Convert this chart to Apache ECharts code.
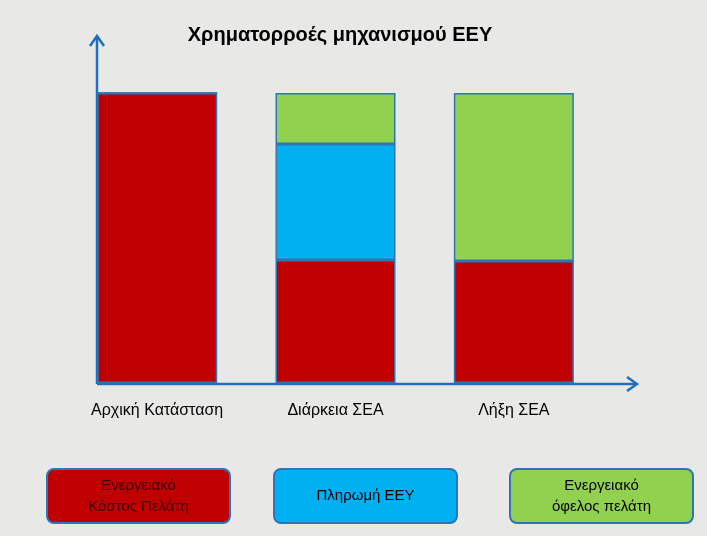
<!DOCTYPE html>
<html>
<head>
<meta charset="utf-8">
<script src="https://cdn.jsdelivr.net/npm/echarts@6/dist/echarts.min.js"></script>
<style>html,body{margin:0;background:#e8e8e6;}#main{width:707px;height:536px;}</style>
</head>
<body>
<div id="main"></div>
<script>
// categories and stacked values (read as pixel heights of the bars)
var categories = ['Αρχική Κατάσταση', 'Διάρκεια ΣΕΑ', 'Λήξη ΣΕΑ'];
var costValues = [290, 123, 122];
var paymentValues = [0, 116, 0];
var benefitValues = [0, 51, 168];
var seriesNames = ['Ενεργειακό Κόστος Πελάτη', 'Πληρωμή ΕΕΥ', 'Ενεργειακό όφελος πελάτη'];

var colors = { red: '#c00000', blue: '#00b0f0', green: '#92d050', border: '#2e75b6', axis: '#1f6fbf' };

var myChart = echarts.init(document.getElementById('main'));

function legendBox(x, fill, txt, txtColor) {
    return {
        type: 'rect', left: x, top: 468,
        shape: { width: 183, height: 54, r: 7 },
        style: { fill: fill, stroke: colors.border, lineWidth: 2 },
        textContent: { style: { text: txt, fill: txtColor, font: '15px Liberation Sans', align: 'center', lineHeight: 21 } },
        textConfig: { position: 'inside' }
    };
}

function barSeries(name, data, color) {
    return {
        name: name, type: 'bar', stack: 'total', barWidth: 120, data: data,
        itemStyle: { color: color, borderColor: colors.border, borderWidth: 1.5 }
    };
}

var option = {
    backgroundColor: '#e8e8e6',
    title: {
        text: 'Χρηματορροές μηχανισμού ΕΕΥ', left: 335, top: 20, textAlign: 'center',
        textStyle: { fontSize: 20, fontWeight: 'bold', color: '#000', fontFamily: 'Liberation Sans' }
    },
    grid: { left: 68, width: 535, top: 93, bottom: 153 },
    xAxis: {
        type: 'category', data: categories,
        axisLine: { show: false }, axisTick: { show: false },
        axisLabel: { margin: 20, fontSize: 16, color: '#000', fontFamily: 'Liberation Sans' }
    },
    yAxis: {
        type: 'value', min: 0, max: 290, show: false
    },
    series: [
        barSeries(seriesNames[0], costValues, colors.red),
        barSeries(seriesNames[1], paymentValues, colors.blue),
        barSeries(seriesNames[2], benefitValues, colors.green)
    ],
    graphic: [
        { type: 'line', shape: { x1: 97, y1: 384, x2: 635, y2: 384 }, style: { stroke: colors.axis, lineWidth: 2.5 } },
        { type: 'polyline', shape: { points: [[627, 377], [637, 384], [627, 391]] }, style: { stroke: colors.axis, lineWidth: 2.5, fill: null } },
        { type: 'line', shape: { x1: 97, y1: 384, x2: 97, y2: 37 }, style: { stroke: colors.axis, lineWidth: 2.5 } },
        { type: 'polyline', shape: { points: [[90, 46], [97, 36], [104, 46]] }, style: { stroke: colors.axis, lineWidth: 2.5, fill: null } },
        legendBox(46, colors.red, 'Ενεργειακό\nΚόστος Πελάτη', '#3a0000'),
        legendBox(273, colors.blue, 'Πληρωμή ΕΕΥ', '#000'),
        legendBox(509, colors.green, 'Ενεργειακό\nόφελος πελάτη', '#000')
    ]
};
myChart.setOption(option);
</script>
</body>
</html>
